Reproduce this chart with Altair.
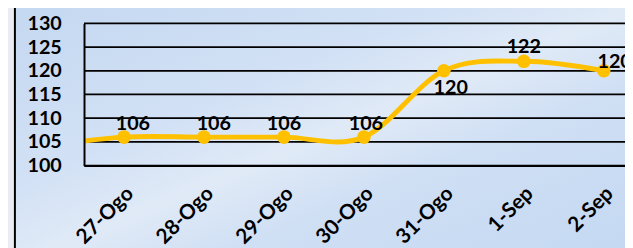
import altair as alt
import pandas as pd

# ---- data ----
categories = ["27-Ogo", "28-Ogo", "29-Ogo", "30-Ogo", "31-Ogo", "1-Sep", "2-Sep"]
values = [106, 106, 106, 106, 120, 122, 120]
lead_in_value = 104          # line enters from the left edge at about 105
y_ticks = [100, 105, 110, 115, 120, 125, 130]

# ---- styling ----
FONT = "Lato"
GOLD = "#FFC000"
W, H = 548, 144
BAND = 81                     # pixels per category
label_style = {               # dx, dy for each data label
    "27-Ogo": (9, -13), "28-Ogo": (10, -13), "29-Ogo": (0, -13),
    "30-Ogo": (2, -13), "31-Ogo": (7, 18), "1-Sep": (0, -14), "2-Sep": (11, -9),
}

idx = list(range(len(categories)))
df = pd.DataFrame({"i": idx, "cat": categories, "v": values})
line_df = pd.DataFrame({"i": [-1] + idx, "v": [lead_in_value] + values})
edges_df = pd.DataFrame({"e": [i - 0.5 for i in range(len(categories) + 1)]})
grid_df = pd.DataFrame({"g": y_ticks})
one = pd.DataFrame({"a": [0]})

xscale = alt.Scale(domain=[-0.5, -0.5 + W / BAND], nice=False, zero=False)
yscale = alt.Scale(domain=[min(y_ticks), max(y_ticks)], nice=False, zero=False)

label_js = "[" + ",".join("'%s'" % c for c in categories) + "]"

xaxis = alt.Axis(values=idx, labelExpr=label_js + "[datum.value]",
                 ticks=False, grid=False, title=None, labelAngle=-45,
                 labelAlign="right", labelBaseline="middle",
                 labelPadding=25, labelOffset=6, labelFont=FONT,
                 labelFontWeight="bold", labelFontSize=21,
                 labelColor="black", domainColor="black",
                 domainWidth=2, zindex=1, labelOverlap=False,
                 labelBound=False, labelFlush=False)
yaxis = alt.Axis(values=y_ticks, ticks=False, grid=False, title=None,
                 labelPadding=23, labelFont=FONT, labelFontWeight="bold",
                 labelFontSize=20, labelColor="black", labelOverlap=False,
                 labelFlush=False, labelBound=False,
                 domainColor="black", domainWidth=2, zindex=1)

X = lambda f: alt.X(f, scale=xscale, axis=xaxis, title=None)
Y = lambda f: alt.Y(f, scale=yscale, axis=yaxis, title=None)

bg = alt.Chart(one).mark_rect(
    fill=alt.Gradient(
        gradient="linear",
        stops=[
            alt.GradientStop(color="#c4d8f1", offset=0),
            alt.GradientStop(color="#d2e1f5", offset=0.35),
            alt.GradientStop(color="#e0eaf7", offset=0.5),
            alt.GradientStop(color="#cfdff4", offset=0.65),
            alt.GradientStop(color="#c3d8f2", offset=1),
        ],
        x1=0, y1=0, x2=1, y2=1,
    )
).encode(x=alt.value(-70), x2=alt.value(W + 20), y=alt.value(-20), y2=alt.value(H + 100))

border = alt.Chart(one).mark_rule(color="black", strokeWidth=2).encode(
    x=alt.value(-70), y=alt.value(-20), y2=alt.value(H + 100)
)

grid = alt.Chart(grid_df).mark_rule(color="black", strokeWidth=1.8).encode(
    y=Y("g:Q"), x=alt.value(0), x2=alt.value(W + 20)
)

ticks = alt.Chart(edges_df).mark_rule(color="black", strokeWidth=2, clip=True).encode(
    x=X("e:Q"), y=alt.value(H), y2=alt.value(H + 7)
)

line = alt.Chart(line_df).mark_line(
    color=GOLD, strokeWidth=5, interpolate="cardinal", tension=0, clip=True
).encode(x=X("i:Q"), y=Y("v:Q"))

points = alt.Chart(df).mark_point(
    filled=True, color=GOLD, size=190, opacity=1
).encode(x=X("i:Q"), y=Y("v:Q"))

texts = []
for c in categories:
    dx, dy = label_style[c]
    texts.append(
        alt.Chart(df).transform_filter(alt.datum.cat == c).mark_text(
            font=FONT, fontWeight="bold", fontSize=20, color="black",
            dx=dx, dy=dy, baseline="middle", align="center"
        ).encode(x=X("i:Q"), y=Y("v:Q"), text=alt.Text("v:Q"))
    )

chart = alt.layer(bg, border, grid, ticks, line, points, *texts).properties(
    width=W, height=H,
    autosize=alt.AutoSizeParams(type="none"),
    padding={"left": 77, "top": 14, "right": 0, "bottom": 90},
    background="#e9ecf0",
).configure_view(stroke=None)

chart.save("out.html", embed_options={"renderer": "svg", "actions": False})
